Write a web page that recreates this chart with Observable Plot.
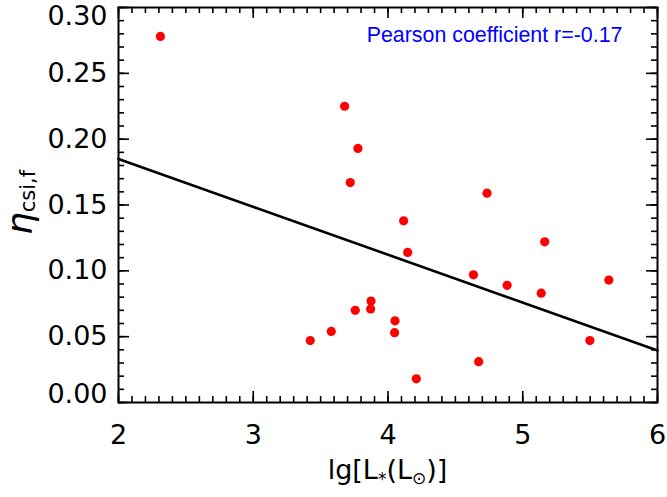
<!DOCTYPE html>
<html><head><meta charset="utf-8">
<script src="https://cdn.jsdelivr.net/npm/d3@7"></script>
<script src="https://cdn.jsdelivr.net/npm/@observablehq/plot@0.6"></script>
<style>html,body{margin:0;padding:0;background:#fff} svg{display:block}</style>
</head><body><div id="chart"></div>
<script>
// data
const lgL = [2.311, 3.678, 3.777, 3.720, 4.735, 4.116, 4.146, 4.634, 5.163, 5.639, 4.884,
             5.137, 3.874, 3.871, 3.757, 4.052, 4.049, 3.579, 3.423, 5.498, 4.673, 4.210];
const etaCsiF = [0.278, 0.225, 0.193, 0.167, 0.159, 0.138, 0.114, 0.097, 0.122, 0.093, 0.089,
                 0.083, 0.077, 0.071, 0.070, 0.062, 0.053, 0.054, 0.047, 0.047, 0.031, 0.018];
const fitX = [2, 6];
const fitY = [0.185, 0.0395];
const xTicks = [2, 3, 4, 5, 6];
const yTicks = [0.00, 0.05, 0.10, 0.15, 0.20, 0.25, 0.30];
const xMinor = d3.range(20, 61).map(d => d / 10);
const yMinor = d3.range(0, 31).map(d => d / 100);
const annotation = ["Pearson coefficient r=-0.17"];

const width = 667, height = 497, mL = 118, mR = 10, mT = 7, mB = 95;
const pw = width - mL - mR, ph = height - mT - mB;
const points = lgL.map((x, i) => ({x, y: etaCsiF[i]}));
const fit = fitX.map((x, i) => ({x, y: fitY[i]}));
const tickFont = "'DejaVu Sans', sans-serif";
const tk = {stroke: "black", strokeWidth: 1.6};
const yLab = {y: d => d, text: d => d.toFixed(2), frameAnchor: "left", dx: -11,
  textAnchor: "end", lineAnchor: "middle", fontSize: 27, fill: "black"};
const yTop = yTicks.slice(-1), yBottom = yTicks.slice(0, 1), yMid = yTicks.slice(1, -1);

const plot = Plot.plot({
  width, height, marginLeft: mL, marginRight: mR, marginTop: mT, marginBottom: mB,
  x: {domain: [2, 6], axis: null},
  y: {domain: [0, 0.3], axis: null},
  style: {background: "white", fontFamily: tickFont, overflow: "visible"},
  marks: [
    Plot.line(fit, {x: "x", y: "y", stroke: "black", strokeWidth: 2.6}),
    Plot.dot(points, {x: "x", y: "y", r: 4.6, fill: "red", stroke: "none"}),
    Plot.tickX(xMinor, {x: d => d, insetTop: ph - 6, ...tk}),
    Plot.tickX(xMinor, {x: d => d, insetBottom: ph - 6, ...tk}),
    Plot.tickX(xTicks, {x: d => d, insetTop: ph - 11, ...tk}),
    Plot.tickX(xTicks, {x: d => d, insetBottom: ph - 11, ...tk}),
    Plot.tickY(yMinor, {y: d => d, insetRight: pw - 6, ...tk}),
    Plot.tickY(yMinor, {y: d => d, insetLeft: pw - 6, ...tk}),
    Plot.tickY(yTicks, {y: d => d, insetRight: pw - 11, ...tk}),
    Plot.tickY(yTicks, {y: d => d, insetLeft: pw - 11, ...tk}),
    Plot.frame({stroke: "black", strokeWidth: 2}),
    Plot.text(xTicks, {x: d => d, text: d => String(d), frameAnchor: "bottom", dy: 33,
      lineAnchor: "middle", fontSize: 27, fill: "black"}),
    Plot.text(yMid, yLab),
    Plot.text(yTop, {...yLab, dy: 9}),
    Plot.text(yBottom, {...yLab, dy: -8}),
    Plot.text(annotation, {text: d => d, frameAnchor: "top-right", dx: -35, dy: 28,
      textAnchor: "end", lineAnchor: "middle", fill: "blue", fontSize: 21.4,
      fontFamily: "'Liberation Sans', Arial, sans-serif"})
  ]
});

const svg = d3.select(plot);
// x axis title
const xt = svg.append("text")
  .attr("x", mL + pw / 2).attr("y", height - 18)
  .attr("text-anchor", "middle").attr("font-size", 27).attr("font-family", tickFont).attr("fill", "black");
xt.append("tspan").text("lg[L");
xt.append("tspan").attr("font-size", 17).attr("dy", 6).text("*");
xt.append("tspan").attr("dy", -6).text("(L");
xt.append("tspan").attr("font-size", 17).attr("dy", 5).text("⊙");
xt.append("tspan").attr("dy", -5).text(")]");
// y axis title
const yt = svg.append("text")
  .attr("transform", `translate(32,${mT + ph / 2 - 2})rotate(-90)`)
  .attr("text-anchor", "middle").attr("font-family", tickFont).attr("fill", "black");
yt.append("tspan").attr("font-size", 36).attr("font-style", "italic").text("η");
yt.append("tspan").attr("font-size", 21).attr("dy", 3).text("csi,f");

document.getElementById("chart").appendChild(plot);
</script>
</body></html>
